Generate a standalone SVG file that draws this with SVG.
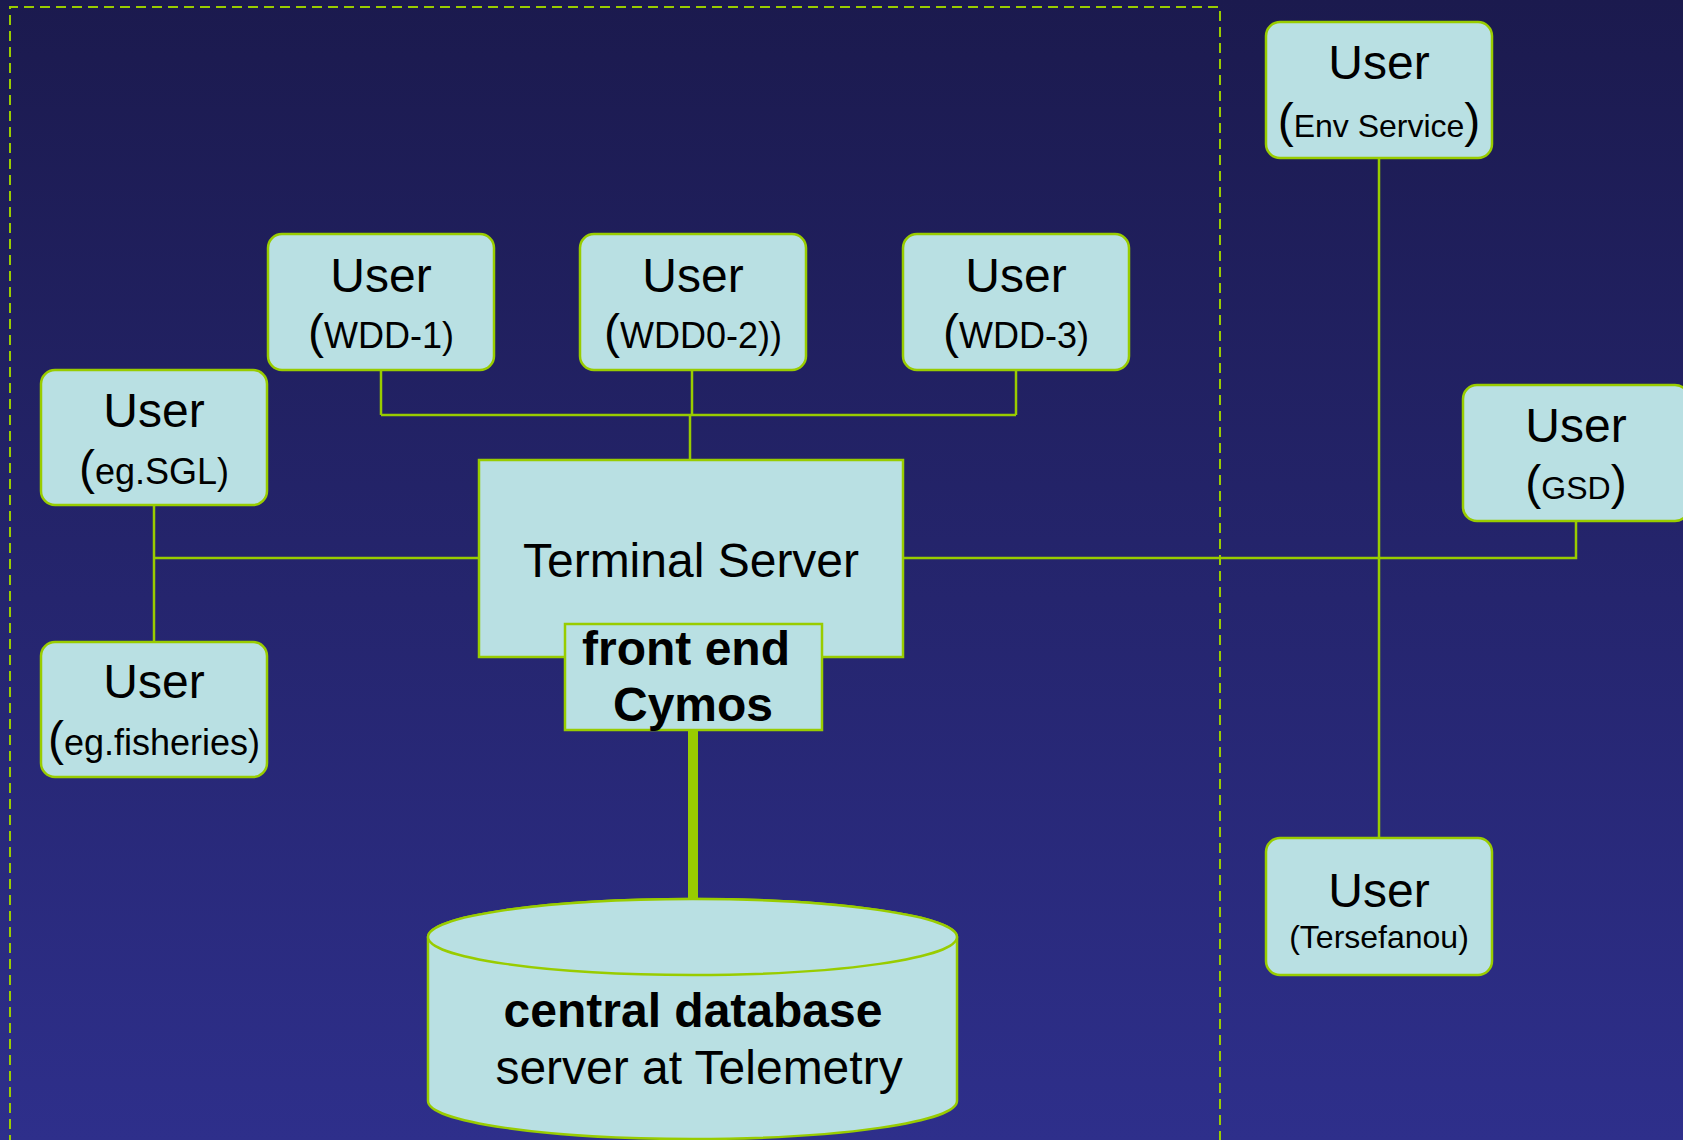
<svg xmlns="http://www.w3.org/2000/svg" width="1683" height="1140" viewBox="0 0 1683 1140">
<defs>
<linearGradient id="bg" x1="0" y1="0" x2="0" y2="1">
<stop offset="0" stop-color="#1b1a4e"/>
<stop offset="1" stop-color="#2e2f8b"/>
</linearGradient>
</defs>
<style>
.box{fill:#b9e0e3;stroke:#99cc00;stroke-width:2.5}
.ln{fill:none;stroke:#99cc00;stroke-width:2.5}
text{font-family:"Liberation Sans",Arial,sans-serif;fill:#000;text-anchor:middle}
.t48{font-size:48px}
.s36{font-size:36px}
.s32{font-size:32px}
.b{font-weight:bold}
</style>
<rect x="0" y="0" width="1683" height="1140" fill="url(#bg)"/>
<path d="M10,1145 V7 H1220 V1145" fill="none" stroke="#99cc00" stroke-width="2" stroke-dasharray="10 6"/>

<g id="connectors">
<path class="ln" d="M381,370 V415 M692,370 V415 M1016,370 V415 M381,415 H1016 M690,415 V460"/>
<path class="ln" d="M154,505 V642 M154,558 H479"/>
<path class="ln" d="M903,558 H1576 V521 M1379,158 V838"/>
<path d="M693,730 V899" fill="none" stroke="#99cc00" stroke-width="10"/>
</g>

<g id="user-env">
<rect class="box" x="1266" y="22" width="226" height="136" rx="14"/>
<text class="t48" x="1379" y="79">User</text>
<text class="t48" x="1379" y="137">(<tspan class="s32">Env Service</tspan>)</text>
</g>

<g id="user-wdd1">
<rect class="box" x="268" y="234" width="226" height="136" rx="14"/>
<text class="t48" x="381" y="292">User</text>
<text class="t48" x="381" y="348">(<tspan class="s36">WDD-1)</tspan></text>
</g>

<g id="user-wdd2">
<rect class="box" x="580" y="234" width="226" height="136" rx="14"/>
<text class="t48" x="693" y="292">User</text>
<text class="t48" x="693" y="348">(<tspan class="s36">WDD0-2))</tspan></text>
</g>

<g id="user-wdd3">
<rect class="box" x="903" y="234" width="226" height="136" rx="14"/>
<text class="t48" x="1016" y="292">User</text>
<text class="t48" x="1016" y="348">(<tspan class="s36">WDD-3)</tspan></text>
</g>

<g id="user-sgl">
<rect class="box" x="41" y="370" width="226" height="135" rx="14"/>
<text class="t48" x="154" y="427">User</text>
<text class="t48" x="154" y="484">(<tspan class="s36">eg.SGL)</tspan></text>
</g>

<g id="user-gsd">
<rect class="box" x="1463" y="385" width="226" height="136" rx="14"/>
<text class="t48" x="1576" y="442">User</text>
<text class="t48" x="1576" y="499">(<tspan class="s32">GSD</tspan>)</text>
</g>

<g id="user-fisheries">
<rect class="box" x="41" y="642" width="226" height="135" rx="14"/>
<text class="t48" x="154" y="698">User</text>
<text class="t48" x="154" y="755">(<tspan class="s36">eg.fisheries)</tspan></text>
</g>

<g id="user-tersefanou">
<rect class="box" x="1266" y="838" width="226" height="137" rx="14"/>
<text class="t48" x="1379" y="907">User</text>
<text class="s32" x="1379" y="948">(Tersefanou)</text>
</g>

<g id="terminal-server">
<rect class="box" x="479" y="460" width="424" height="197"/>
<text class="t48" x="691" y="577">Terminal Server</text>
</g>

<g id="front-end">
<rect class="box" x="565" y="624" width="257" height="106"/>
<text class="t48 b" x="686" y="665">front end</text>
<text class="t48 b" x="693" y="721">Cymos</text>
</g>

<g id="central-database">
<path class="box" d="M428,937 V1101 A264.5,38 0 0 0 957,1101 V937 A264.5,38 0 0 0 428,937 Z"/>
<ellipse class="box" cx="692.5" cy="937" rx="264.5" ry="38"/>
<text class="t48 b" x="693" y="1027">central database</text>
<text class="t48" x="699" y="1084">server at Telemetry</text>
</g>
</svg>
